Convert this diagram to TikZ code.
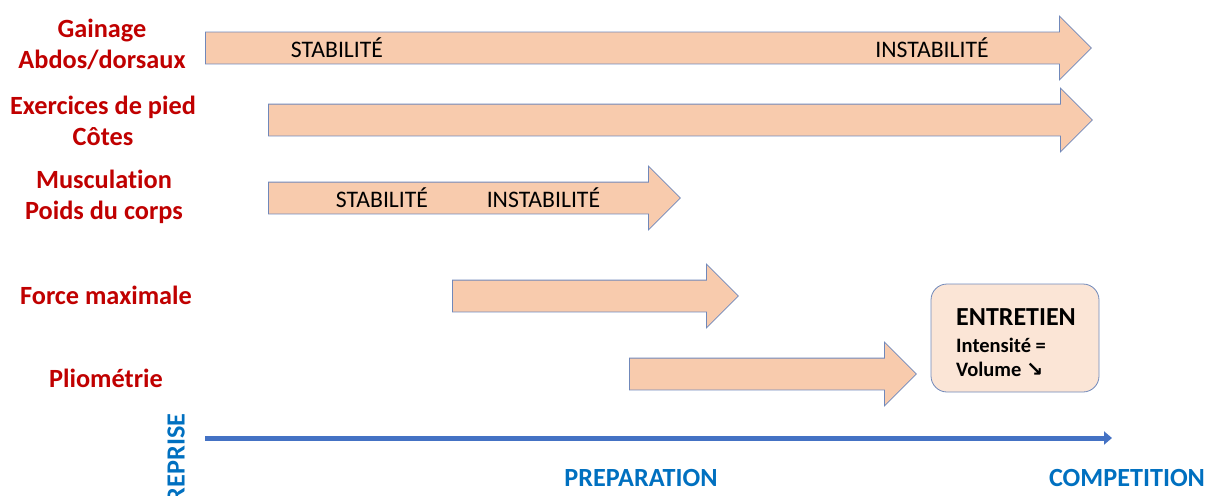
\documentclass[tikz,border=0pt]{standalone}
\usepackage{fontspec}
\setmainfont[Ligatures=NoCommon]{Carlito}
\newfontfamily\symfont{DejaVu Sans}
\usepackage{xcolor}
\usetikzlibrary{arrows.meta}
\usetikzlibrary{positioning, shapes.arrows}

\definecolor{peach}{HTML}{F8CBAD}
\definecolor{paleshell}{HTML}{FBE5D6}
\definecolor{edgeblue}{HTML}{7088BA}
\definecolor{darkred}{HTML}{C00000}
\definecolor{textblue}{HTML}{0070C0}
\definecolor{axisblue}{HTML}{4472C4}

\begin{document}
\begin{tikzpicture}[x=1pt, y=-1pt,
    phase/.style={single arrow, draw=edgeblue, fill=peach, line width=0.8pt,
        inner xsep=0pt, inner ysep=15.5pt, single arrow head extend=16pt,
        anchor=tail},
    exercise/.style={text=darkred, align=center,
        font=\fontsize{26.3}{31}\selectfont\bfseries},
    stage/.style={font=\fontsize{23.7}{27}\selectfont},
    period/.style={text=textblue, font=\fontsize{26.2}{30}\selectfont\bfseries},
    keepline/.style={anchor=base west, inner sep=0pt,
        font=\fontsize{20.5}{24}\selectfont\bfseries},
  ]
    \useasboundingbox (0,0) rectangle (1214,495);

    % exercises on the left
    \node[exercise] (gainage)  at (102,44)  {Gainage\\Abdos/dorsaux};
    \node[exercise] (pied)     at (103,121) {Exercices de pied\\Côtes};
    \node[exercise] (muscu)    at (104,197) {Musculation\\Poids du corps};
    \node[exercise] (force)    at (106,295) {Force maximale};
    \node[exercise] (pliom)    at (106,378) {Pliométrie};

    % phase arrows
    \node[phase, minimum height=886pt] (phasegainage) at (205,48)  {};
    \node[phase, minimum height=824pt] (phasepied)    at (268,120) {};
    \node[phase, minimum height=412pt] (phasemuscu)   at (268,198) {};
    \node[phase, minimum height=286pt] (phaseforce)   at (452,296) {};
    \node[phase, minimum height=287pt] (phasepliom)   at (629,374) {};

    % labels inside the arrows
    \node[stage] (stabA)   at (337,48)  {STABILITÉ};
    \node[stage] (instabA) at (932,48)  {INSTABILITÉ};
    \node[stage] (stabB)   at (382,198) {STABILITÉ};
    \node[stage, right=55pt of stabB.east, anchor=west, inner xsep=0pt] (instabB) {INSTABILITÉ};

    % maintenance box
    \node[draw=edgeblue, fill=paleshell, line width=0.8pt, rounded corners=16pt,
          minimum width=168pt, minimum height=108pt] (entretien) at (1015,338) {};
    \node[keepline, font=\fontsize{26}{30}\selectfont\bfseries] (keeptitle) at (956,325) {ENTRETIEN};
    \node[keepline] (keepline1) at (956,352) {Intensité =};
    \node[keepline] (keepline2) at (956,376) {Volume {\symfont\bfseries ↘}};

    % time axis
    \coordinate (axisstart) at (205,438);
    \coordinate (axisend)   at (1112,438);
    \draw[axisblue, line width=5pt, -{Triangle[length=8pt, width=13pt]}]
        (axisstart) -- (axisend);
    \node[period, rotate=90] (reprise) at (176,458) {REPRISE};
    \node[period] (prepa)  at (641,478)  {PREPARATION};
    \node[period] (compet) at (1127,478) {COMPETITION};
\end{tikzpicture}
\end{document}
